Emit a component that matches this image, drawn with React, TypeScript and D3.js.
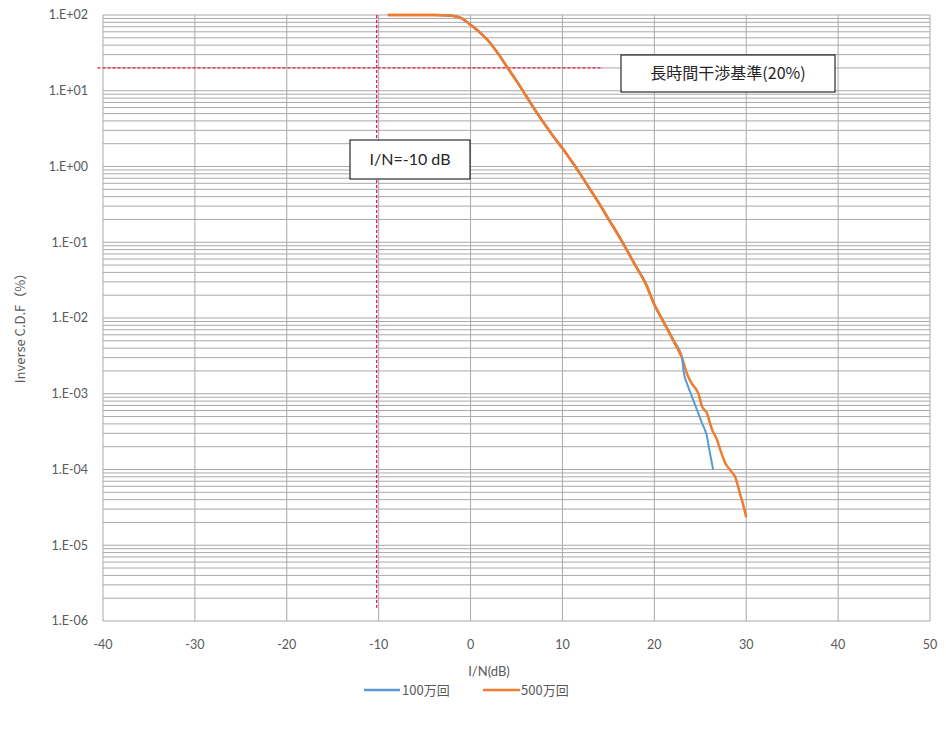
import React from "react";
import * as d3 from "d3";

const xTicks = [-40, -30, -20, -10, 0, 10, 20, 30, 40, 50];
const yTicks = [1e2, 1e1, 1e0, 1e-1, 1e-2, 1e-3, 1e-4, 1e-5, 1e-6];
const yTickLabels = ["1.E+02", "1.E+01", "1.E+00", "1.E-01", "1.E-02", "1.E-03", "1.E-04", "1.E-05", "1.E-06"];

// 500万回 (orange)
const x500 = [-9, -6, -4, -3, -2, -1, 0, 1, 2, 3, 4, 5, 6, 7, 8, 9, 10, 11, 12, 13, 14, 15, 16, 17, 18, 19, 20, 21, 22, 23, 23.5, 24, 24.8, 25.2, 25.7, 26.3, 26.8, 27.2, 27.7, 28.4, 28.8, 29.3, 29.7, 30.0];
const y500 = [100, 100, 99.8, 99.5, 98, 91, 74, 58.9, 44.7, 30.9, 20.4, 13.5, 8.71, 5.62, 3.72, 2.51, 1.74, 1.17, 0.776, 0.501, 0.324, 0.204, 0.129, 0.0794, 0.0479, 0.0295, 0.0151, 0.00891, 0.00525, 0.00302, 0.00191, 0.00141, 0.001, 0.000676, 0.000562, 0.000331, 0.000251, 0.000178, 0.000123, 0.0000933, 0.0000794, 0.000049, 0.0000331, 0.0000234];

// 100万回 (blue)
const x100 = [-9, -6, -4, -3, -2, -1, 0, 1, 2, 3, 4, 5, 6, 7, 8, 9, 10, 11, 12, 13, 14, 15, 16, 17, 18, 19, 20, 21, 22, 23, 23.2, 23.6, 24.1, 24.6, 25.2, 25.7, 26.0, 26.4];
const y100 = [100, 100, 99.8, 99.5, 98, 91, 74, 58.9, 44.7, 30.9, 20.4, 13.5, 8.71, 5.62, 3.72, 2.51, 1.74, 1.17, 0.776, 0.501, 0.324, 0.204, 0.129, 0.0794, 0.0479, 0.0295, 0.0151, 0.00891, 0.00525, 0.00302, 0.00191, 0.00132, 0.000912, 0.000631, 0.000407, 0.000282, 0.000178, 0.0001];

const seriesNames = ["100万回", "500万回"];
const seriesColors = ["#5B9BD5", "#ED7D31"];

const criterionY = 20; // 20%
const criterionXEnd = 14.4;
const markerX = -10;
const markerYEnd = 1.5e-6;

const FONT = "Lato, 'Noto Sans', sans-serif";
const CJK = "'Noto Sans CJK JP', 'Noto Sans', sans-serif";

export default function App() {
  const left = 103, right = 930, top = 15, bottom = 621;
  const x = d3.scaleLinear().domain([-40, 50]).range([left, right]);
  const y = d3.scaleLog().domain([1e-6, 1e2]).range([bottom, top]);

  const minor: number[] = [];
  for (let e = -6; e < 2; e++) {
    for (let m = 1; m <= 9; m++) minor.push(m * Math.pow(10, e));
  }
  minor.push(100);

  const line = d3
    .line<[number, number]>()
    .x((d) => x(d[0]))
    .y((d) => y(d[1]))
    .curve(d3.curveMonotoneX);

  const d500 = line(x500.map((v, i) => [v, y500[i]] as [number, number])) || "";
  const d100 = line(x100.map((v, i) => [v, y100[i]] as [number, number])) || "";
  const d500Head = line(x500.slice(0, 30).map((v, i) => [v, y500[i]] as [number, number])) || "";

  const gridColor = "#a9a9a9";
  const red = "#e8194a";

  return (
    <div style={{ position: "absolute", left: 0, top: 0 }}>
      <svg width={946} height={735} style={{ display: "block", background: "#fff" }}>
        {/* horizontal gridlines */}
        {minor.map((v, i) => (
          <line key={"h" + i} x1={left} x2={right} y1={y(v)} y2={y(v)} stroke={gridColor} strokeWidth={1} />
        ))}
        {/* vertical gridlines */}
        {xTicks.map((t) => (
          <line key={"v" + t} x1={x(t)} x2={x(t)} y1={top} y2={bottom} stroke={gridColor} strokeWidth={1} />
        ))}

        {/* reference lines */}
        <line x1={x(-40.6)} x2={x(criterionXEnd)} y1={y(criterionY)} y2={y(criterionY)} stroke={red} strokeWidth={1.3} strokeDasharray="3,2" />
        <line x1={x(markerX) - 2} x2={x(markerX) - 2} y1={top} y2={y(markerYEnd)} stroke={red} strokeWidth={1.3} strokeDasharray="3,2" />

        {/* series */}
        <path d={d500} fill="none" stroke={seriesColors[1]} strokeWidth={2.5} strokeLinejoin="round" />
        <path d={d100} fill="none" stroke={seriesColors[0]} strokeWidth={2} strokeLinejoin="round" />
        <path d={d500Head} fill="none" stroke={seriesColors[1]} strokeWidth={2.5} strokeLinejoin="round" />

        {/* y tick labels */}
        {yTicks.map((t, i) => (
          <text key={"yt" + i} x={88} y={y(t)} dy="0.35em" textAnchor="end" fontFamily={FONT} fontSize={12.5} fill="#595959">
            {yTickLabels[i]}
          </text>
        ))}
        {/* x tick labels */}
        {xTicks.map((t) => (
          <text key={"xt" + t} x={x(t)} y={645} dy="0.35em" textAnchor="middle" fontFamily={FONT} fontSize={12.5} fill="#595959">
            {t}
          </text>
        ))}

        {/* axis titles */}
        <text x={489} y={671} dy="0.35em" textAnchor="middle" fontFamily={FONT} fontSize={13} fill="#595959">
          I/N(dB)
        </text>
        <text transform="translate(20,325) rotate(-90)" dy="0.35em" textAnchor="middle" fontFamily={CJK} fontSize={13} fill="#595959">
          Inverse C.D.F（%）
        </text>

        {/* annotation boxes */}
        <rect x={621} y={55} width={214} height={37} fill="#fff" stroke="#000" strokeWidth={1} />
        <text x={728} y={73.5} dy="0.35em" textAnchor="middle" fontFamily={CJK} fontSize={16} fill="#262626">
          長時間干渉基準(20%)
        </text>
        <rect x={350} y={140} width={120} height={39} fill="#fff" stroke="#000" strokeWidth={1} />
        <text x={410} y={159.5} dy="0.35em" textAnchor="middle" fontFamily={FONT} fontSize={16} fill="#262626">
          I/N=-10 dB
        </text>

        {/* legend */}
        <line x1={364} x2={400} y1={690} y2={690} stroke={seriesColors[0]} strokeWidth={2.5} />
        <text x={402} y={690} dy="0.35em" fontFamily={CJK} fontSize={13} fill="#595959">
          {seriesNames[0]}
        </text>
        <line x1={483} x2={520} y1={690} y2={690} stroke={seriesColors[1]} strokeWidth={2.5} />
        <text x={521} y={690} dy="0.35em" fontFamily={CJK} fontSize={13} fill="#595959">
          {seriesNames[1]}
        </text>
      </svg>
    </div>
  );
}
